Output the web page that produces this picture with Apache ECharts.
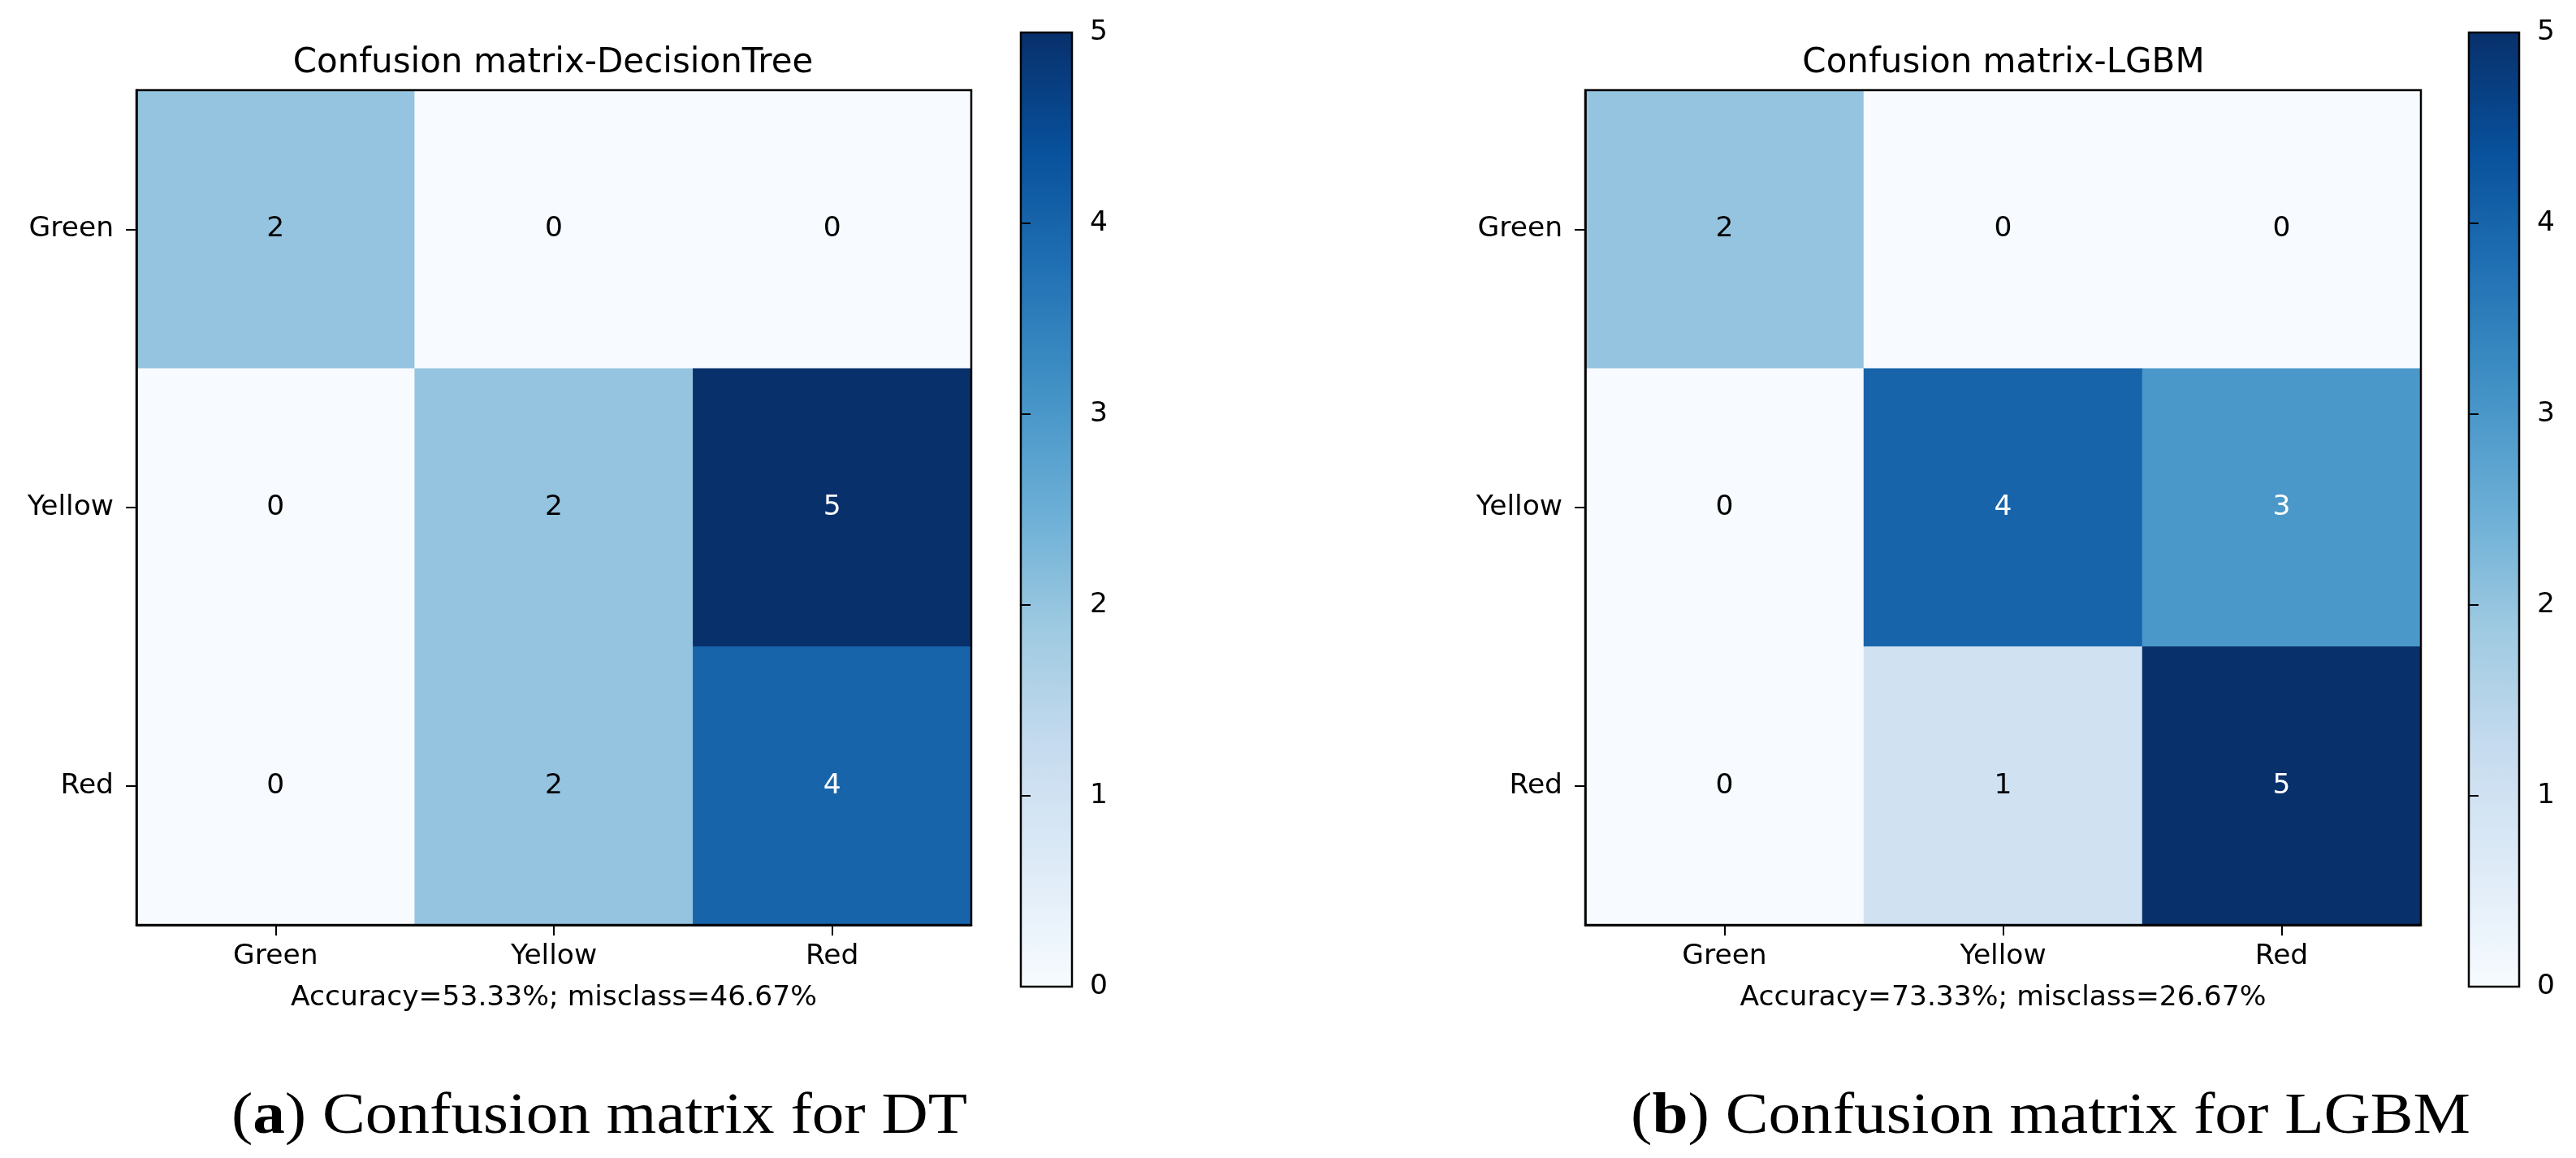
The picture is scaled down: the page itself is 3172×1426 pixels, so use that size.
<!DOCTYPE html>
<html>
<head>
<meta charset="utf-8">
<style>
html,body{margin:0;padding:0;background:#fff;}
#chart{width:3172px;height:1426px;}
</style>
<script src="https://cdn.jsdelivr.net/npm/echarts@6/dist/echarts.min.js"></script>
</head>
<body>
<div id="chart"></div>
<script>
// ---- data ----
var categories = ['Green', 'Yellow', 'Red'];
var dtMatrix = [[2, 0, 0], [0, 2, 5], [0, 2, 4]];
var lgbmMatrix = [[2, 0, 0], [0, 4, 3], [0, 1, 5]];
var colorbarTicks = [0, 1, 2, 3, 4, 5];
var titles = ['Confusion matrix-DecisionTree', 'Confusion matrix-LGBM'];
var xLabels = ['Accuracy=53.33%; misclass=46.67%', 'Accuracy=73.33%; misclass=26.67%'];
var captionLetters = ['a', 'b'];
var captionTexts = [' Confusion matrix for DT', ' Confusion matrix for LGBM'];

var blues = ['#f7fbff', '#deebf7', '#c6dbef', '#9ecae1', '#6baed6', '#4292c6', '#2171b5', '#08519c', '#08306b'];
var vmin = 0, vmax = 5;
var FONT = 'DejaVu Sans';
var FS = 34.5;

function toHeat(m) {
  var out = [];
  for (var r = 0; r < m.length; r++) {
    for (var c = 0; c < m[r].length; c++) {
      var v = m[r][c];
      out.push({
        value: [c, r, v],
        label: { color: v > (vmax / 2) ? '#ffffff' : '#000000' }
      });
    }
  }
  return out;
}

var panels = [
  { grid: { left: 168, top: 111, width: 1028, height: 1028 }, cb: { left: 1257, top: 40, width: 63, height: 1175 }, cx: 681, capX: 738, matrix: dtMatrix },
  { grid: { left: 1952, top: 111, width: 1029, height: 1028 }, cb: { left: 3040, top: 40, width: 62, height: 1175 }, cx: 2467, capX: 2525, matrix: lgbmMatrix }
];

var option = {
  backgroundColor: '#ffffff',
  animation: false,
  grid: [], xAxis: [], yAxis: [], series: [], visualMap: [], graphic: []
};

panels.forEach(function (p, i) {
  option.grid.push({
    left: p.grid.left, top: p.grid.top, width: p.grid.width, height: p.grid.height,
    show: true, borderColor: '#000', borderWidth: 2.5, backgroundColor: 'transparent', z: 10
  });
  option.grid.push({
    left: p.cb.left, top: p.cb.top, width: p.cb.width, height: p.cb.height,
    show: true, borderColor: '#000', borderWidth: 2.5, backgroundColor: 'transparent', z: 10
  });
  var gi = i * 2;
  option.xAxis.push({
    type: 'category', data: categories, gridIndex: gi, position: 'bottom', z: 10,
    axisLine: { show: true, lineStyle: { color: '#000', width: 2.5 } },
    axisTick: { show: true, alignWithLabel: true, length: 13, lineStyle: { color: '#000', width: 2 } },
    axisLabel: { fontFamily: FONT, fontSize: FS, color: '#000', margin: 22 },
    splitLine: { show: false },
    name: xLabels[i], nameLocation: 'middle', nameGap: 73,
    nameTextStyle: { fontFamily: FONT, fontSize: FS, color: '#000' }
  });
  option.yAxis.push({
    type: 'category', data: categories, gridIndex: gi, inverse: true, z: 10,
    axisLine: { show: true, lineStyle: { color: '#000', width: 2.5 } },
    axisTick: { show: true, alignWithLabel: true, length: 13, lineStyle: { color: '#000', width: 2 } },
    axisLabel: { fontFamily: FONT, fontSize: FS, color: '#000', margin: 28 },
    splitLine: { show: false }
  });
  option.xAxis.push({ type: 'value', gridIndex: gi + 1, show: false, min: 0, max: 1 });
  option.yAxis.push({
    type: 'value', gridIndex: gi + 1, position: 'right', min: colorbarTicks[0], max: colorbarTicks[colorbarTicks.length - 1], interval: 1, z: 10,
    axisLine: { show: false },
    axisTick: { show: true, length: 12, lineStyle: { color: '#000', width: 2 } },
    axisLabel: { fontFamily: FONT, fontSize: FS, color: '#000', margin: 22 },
    splitLine: { show: false }
  });
  option.series.push({
    type: 'heatmap', xAxisIndex: gi, yAxisIndex: gi,
    data: toHeat(p.matrix),
    label: { show: true, fontFamily: FONT, fontSize: FS, formatter: function (d) { return d.value[2]; } },
    itemStyle: { borderWidth: 0 },
    emphasis: { disabled: true }
  });
  option.visualMap.push({
    type: 'continuous', seriesIndex: i, min: vmin, max: vmax, dimension: 2,
    calculable: false, realtime: false, text: null, showLabel: false,
    orient: 'vertical', left: p.cb.left, top: p.cb.top, padding: 0,
    itemWidth: p.cb.width, itemHeight: p.cb.height,
    inRange: { color: blues },
    hoverLink: false
  });
  option.graphic.push({
    type: 'text', x: p.cx, y: 78, z: 20,
    style: { text: titles[i], fontFamily: FONT, fontSize: 42, fill: '#000', textAlign: 'center', textVerticalAlign: 'middle' }
  });
  option.graphic.push({
    type: 'text', x: p.capX, y: 1376, z: 20, scaleX: 1.1,
    style: {
      text: '{p|(}{b|' + captionLetters[i] + '}{p|)' + captionTexts[i] + '}',
      textAlign: 'center', textVerticalAlign: 'middle',
      rich: {
        p: { fontFamily: 'Liberation Serif', fontSize: 72, fill: '#000', fontWeight: 'normal' },
        b: { fontFamily: 'Liberation Serif', fontSize: 72, fill: '#000', fontWeight: 'bold' }
      }
    }
  });
});

var chart = echarts.init(document.getElementById('chart'));
chart.setOption(option);
</script>
</body>
</html>
